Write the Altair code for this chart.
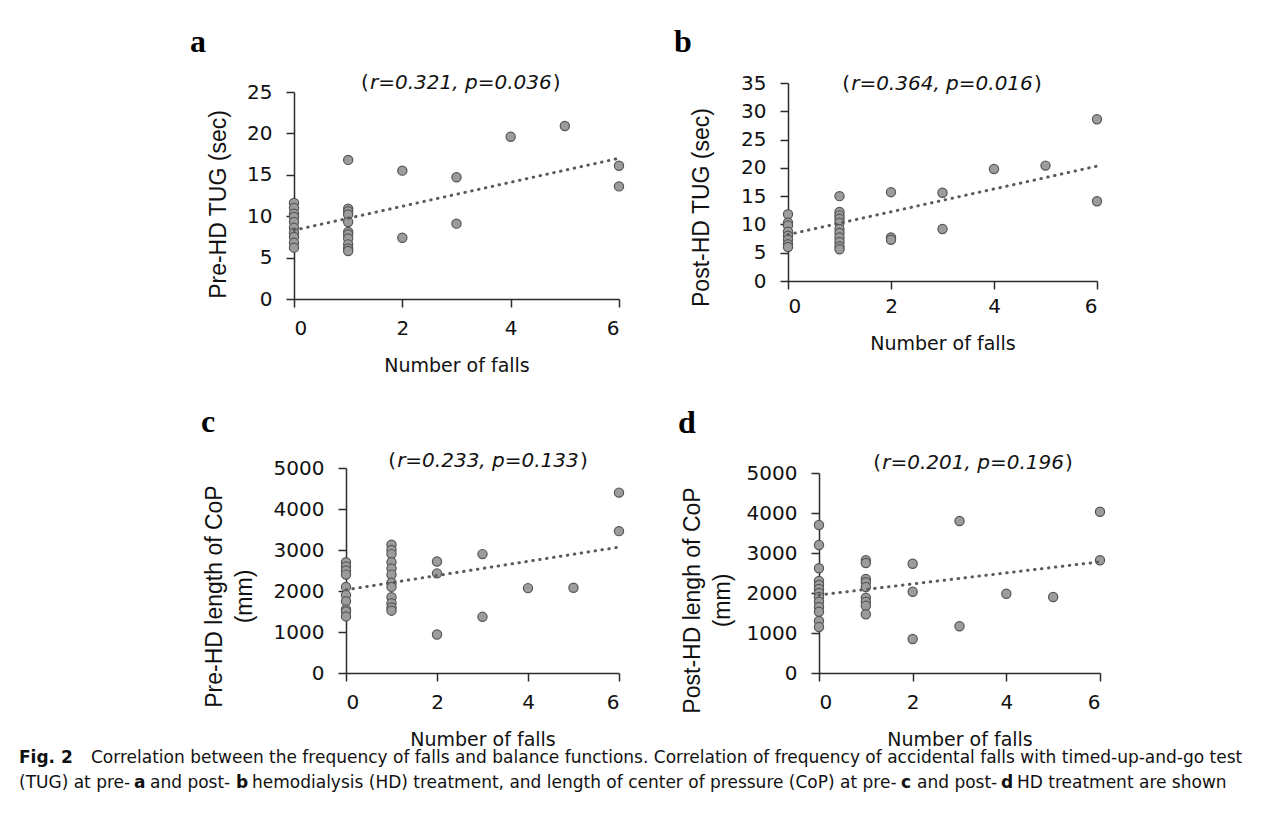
import altair as alt
import pandas as pd

# ---------------- data ----------------
FALLS_A = [0]*10 + [1]*11 + [2, 2, 3, 3, 4, 5, 6, 6]
TUG_PRE = [11.6, 11.0, 10.3, 9.9, 9.3, 8.6, 8.0, 7.5, 6.8, 6.2,
           16.8, 10.9, 10.6, 10.2, 9.3, 8.1, 7.8, 7.3, 6.6, 6.1, 5.8,
           15.5, 7.4, 14.7, 9.1, 19.6, 20.9, 16.1, 13.6]
TREND_A = [8.3, 17.0]

FALLS_B = [0]*8 + [1]*11 + [2, 2, 2, 3, 3, 4, 5, 6, 6]
TUG_POST = [11.8, 10.3, 9.8, 8.7, 8.0, 7.3, 6.5, 6.0,
            15.0, 12.2, 11.6, 11.0, 10.3, 9.2, 8.5, 7.7, 6.9, 6.1, 5.6,
            15.7, 7.7, 7.3, 15.6, 9.2, 19.8, 20.4, 28.6, 14.1]
TREND_B = [8.2, 20.3]

FALLS_C = [0]*10 + [1]*12 + [2, 2, 2, 3, 3, 4, 5, 6, 6]
COP_PRE = [2700, 2600, 2500, 2400, 2100, 1900, 1750, 1550, 1500, 1380,
           3130, 3000, 2900, 2700, 2550, 2400, 2200, 2100, 1850, 1700, 1600, 1520,
           2720, 2430, 940, 2900, 1370, 2070, 2080, 4400, 3460]
TREND_C = [2030, 3070]

FALLS_D = [0]*13 + [1]*9 + [2, 2, 2, 3, 3, 4, 5, 6, 6]
COP_POST = [3700, 3200, 2620, 2300, 2200, 2100, 2000, 1900, 1780, 1650, 1530, 1300, 1150,
            2820, 2750, 2350, 2270, 2150, 1880, 1780, 1680, 1470,
            2730, 2030, 850, 3800, 1170, 1980, 1900, 4030, 2820]
TREND_D = [1950, 2780]

TREND_X = [0, 6]
X_TICKS = [0, 2, 4, 6]

ANNOT = ["r=0.321, p=0.036", "r=0.364, p=0.016", "r=0.233, p=0.133", "r=0.201, p=0.196"]
LETTERS = ["a", "b", "c", "d"]
Y_TITLES = ["Pre-HD TUG (sec)", "Post-HD TUG (sec)",
            ["Pre-HD length of CoP", "(mm)"], ["Post-HD lengh of CoP", "(mm)"]]
X_TITLE = "Number of falls"

CAP1_BOLD = "Fig. 2"
CAP1_TEXT = ("Correlation between the frequency of falls and balance functions. "
             "Correlation of frequency of accidental falls with timed-up-and-go test")
CAP2_SEGMENTS = [("(TUG) at pre-", False), ("a", True), ("and post-", False), ("b", True),
                 ("hemodialysis (HD) treatment, and length of center of pressure (CoP) at pre-", False),
                 ("c", True), ("and post-", False), ("d", True), ("HD treatment are shown", False)]
CAP2_X = [0, 115, 131, 217, 233, 882, 898, 982, 998]

SANS = "DejaVu Sans"
AXC = "#2b2b2b"


def panel(falls, vals, trend, ymax, ystep, width, height, yrange, ytitle, ytitle_pad,
          letter, letter_xy, annot, ann_xy, ytitle_y=None, x_title_x=None,
          xlab_pad=11, xtitle_pad=18):
    df = pd.DataFrame({"falls": falls, "val": vals})
    tdf = pd.DataFrame({"falls": TREND_X, "val": trend})
    xs = alt.Scale(domain=[0, 6], nice=False, zero=False)
    ys = alt.Scale(domain=[0, ymax], nice=False, range=yrange)
    xaxis_kw = dict(values=X_TICKS, title=X_TITLE, format="d",
                    labelPadding=xlab_pad, titlePadding=xtitle_pad)
    if x_title_x is not None:
        xaxis_kw["titleX"] = x_title_x
    yaxis_kw = dict(values=list(range(0, ymax + 1, ystep)), title=ytitle, format="d",
                    titlePadding=ytitle_pad, labelPadding=14, labelOverlap=False)
    if ytitle_y is not None:
        yaxis_kw["titleY"] = ytitle_y
    x = alt.X("falls:Q", scale=xs, axis=alt.Axis(**xaxis_kw))
    y = alt.Y("val:Q", scale=ys, axis=alt.Axis(**yaxis_kw))
    pts = alt.Chart(df).mark_circle(size=85, color="#9c9c9c", opacity=1,
                                    stroke="#555555", strokeWidth=1.2).encode(x=x, y=y)
    line = alt.Chart(tdf).mark_line(color="#5a5a5a", strokeWidth=3, strokeCap="round",
                                    strokeDash=[0.5, 6.5]).encode(x=x, y=y)
    adf = pd.DataFrame({"falls": [ann_xy[0]], "val": [ann_xy[1]], "t": [annot]})
    ann = alt.Chart(adf).mark_text(font=SANS, fontSize=20, fontStyle="italic",
                                   baseline="middle", color="#111").encode(
        x=x, y=y, text="t:N")
    lp = alt.Chart(adf).mark_text(font=SANS, fontSize=20, align="right", dx=-92,
                                  baseline="middle", color="#111", text="(").encode(x=x, y=y)
    rp = alt.Chart(adf).mark_text(font=SANS, fontSize=20, align="left", dx=92,
                                  baseline="middle", color="#111", text=")").encode(x=x, y=y)
    ldf = pd.DataFrame({"t": [letter]})
    let = alt.Chart(ldf).mark_text(font="Liberation Serif", fontSize=32, fontWeight="bold",
                                   align="left", baseline="alphabetic", color="#000").encode(
        x=alt.value(letter_xy[0]), y=alt.value(letter_xy[1]), text="t:N")
    return alt.layer(pts, line, ann, lp, rp, let).properties(width=width, height=height)


def spacer(w):
    return alt.Chart(pd.DataFrame({"v": [0]})).mark_point(opacity=0).encode(
        x=alt.value(0), y=alt.value(0)).properties(width=w, height=1)


pa = panel(FALLS_A, TUG_PRE, TREND_A, 25, 5, 325, 216, [216, 9], Y_TITLES[0], 16,
           LETTERS[0], (-104, -31), ANNOT[0], (3.08, 26.1), ytitle_y=121)
pb = panel(FALLS_B, TUG_POST, TREND_B, 35, 5, 309, 198, [198, 0], Y_TITLES[1], 27,
           LETTERS[1], (-114, -31), ANNOT[1], (2.99, 34.9), ytitle_y=124, xlab_pad=7)
pc = panel(FALLS_C, COP_PRE, TREND_C, 5000, 1000, 273, 205, [205, 0], Y_TITLES[2], 17,
           LETTERS[2], (-145, -36), ANNOT[2], (3.12, 5170), ytitle_y=128)
pd_ = panel(FALLS_D, COP_POST, TREND_D, 5000, 1000, 281, 205, [205, 5], Y_TITLES[3], 12,
            LETTERS[3], (-141, -35), ANNOT[3], (3.29, 5250), ytitle_y=132)

row1 = alt.hconcat(spacer(124), pa, pb, spacing=47)
row2 = alt.hconcat(spacer(131), pc, pd_, spacing=51)
plots = alt.vconcat(row1, row2, spacing=31)

# caption
cap_layers = []
c1 = pd.DataFrame({"t": [CAP1_BOLD]})
cap_layers.append(alt.Chart(c1).mark_text(font=SANS, fontSize=17, fontWeight="bold", align="left",
                                          baseline="middle", color="#111").encode(
    x=alt.value(0), y=alt.value(8), text="t:N"))
c1b = pd.DataFrame({"t": [CAP1_TEXT]})
cap_layers.append(alt.Chart(c1b).mark_text(font=SANS, fontSize=17, align="left",
                                           baseline="middle", color="#111").encode(
    x=alt.value(72), y=alt.value(8), text="t:N"))
for (seg, bold), sx in zip(CAP2_SEGMENTS, CAP2_X):
    sdf = pd.DataFrame({"t": [seg]})
    cap_layers.append(alt.Chart(sdf).mark_text(font=SANS, fontSize=17,
                                               fontWeight="bold" if bold else "normal",
                                               align="left", baseline="middle", color="#111").encode(
        x=alt.value(sx), y=alt.value(33), text="t:N"))
caption = alt.layer(*cap_layers).properties(width=800, height=40)

chart = alt.vconcat(plots, caption, spacing=0).properties(
    padding={"left": 8, "top": 18, "right": 5, "bottom": 5}
).configure_view(stroke=None).configure_axis(
    domainColor=AXC, domainWidth=1.5, tickColor=AXC, tickWidth=1.5, tickSize=8,
    labelFont=SANS, labelFontSize=20, labelColor="#111", grid=False,
    titleFont="Liberation Sans", titleFontSize=23, titleFontWeight="normal", titleColor="#111",
    titleLineHeight=30
).configure_axisX(titleFont=SANS, titleFontSize=19)

chart.save("out.html", embed_options={"renderer": "svg", "actions": False})
